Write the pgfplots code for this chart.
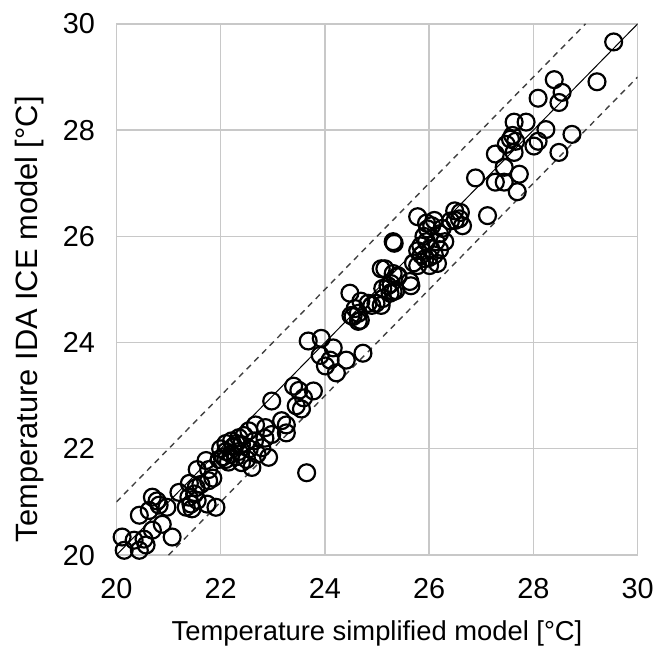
\documentclass[border=0pt]{standalone}
\usepackage{fontspec}
\setmainfont{Liberation Sans}
\usepackage{pgfplots}
\pgfplotsset{compat=1.18}
\definecolor{gridgray}{HTML}{C8C8C8}
\definecolor{dashgray}{HTML}{404040}

\pgfplotstableread{
x y
20.15 20.09
20.11 20.34
20.44 20.09
20.57 20.19
20.34 20.28
20.53 20.30
20.69 20.47
21.07 20.34
20.88 20.58
20.44 20.75
20.63 20.84
20.69 21.09
20.82 20.94
20.97 20.90
20.78 21.02
21.20 21.18
21.39 21.09
21.43 20.96
21.34 20.90
21.45 20.87
21.55 21.03
21.74 20.96
21.91 20.90
21.53 21.27
21.50 21.15
21.62 21.33
21.40 21.35
21.77 21.40
21.85 21.45
21.55 21.61
21.77 21.61
21.72 21.78
21.97 21.80
22.05 21.85
22.10 21.95
22.15 21.75
22.20 21.90
22.25 22.05
22.30 21.85
22.35 21.95
22.00 22.00
22.40 22.08
22.10 22.10
22.21 22.15
22.35 22.21
22.54 22.34
22.67 22.45
22.86 22.40
22.98 22.27
22.92 21.84
22.60 21.65
22.40 21.74
22.79 22.02
22.45 22.25
22.55 22.00
22.70 21.90
22.65 22.15
22.85 22.20
22.50 21.80
22.10 21.80
22.30 22.10
22.98 22.90
23.17 22.53
23.26 22.45
23.26 22.30
23.40 23.18
23.45 22.81
23.59 22.96
23.78 23.09
23.55 22.75
23.50 23.10
23.68 24.03
23.93 24.08
24.16 23.90
23.91 23.76
24.10 23.67
24.01 23.56
24.41 23.67
24.22 23.43
24.73 23.80
23.65 21.55
24.50 24.51
24.64 24.40
24.48 24.93
24.69 24.78
24.83 24.74
24.98 24.74
25.11 24.83
24.58 24.64
24.64 24.55
24.54 24.49
24.68 24.42
24.90 24.70
25.08 24.70
25.21 25.07
25.36 24.98
25.25 24.93
25.08 25.39
25.31 25.30
25.40 25.24
25.63 25.15
25.31 25.90
25.33 25.87
25.27 25.11
25.11 25.02
25.31 24.96
25.65 25.07
25.40 25.26
25.15 25.39
25.78 26.37
26.49 26.48
26.58 26.33
26.64 26.20
26.41 26.29
25.97 26.14
26.13 25.90
25.84 25.82
25.78 25.73
26.03 25.77
26.30 25.90
25.92 25.58
25.78 25.45
26.01 25.45
26.16 25.49
25.90 26.00
26.05 26.20
26.20 26.05
25.85 25.65
26.10 25.65
26.25 26.15
26.50 26.30
25.95 25.90
26.10 26.30
26.00 25.60
25.70 25.50
26.20 25.75
25.95 26.25
26.60 26.45
26.89 27.10
27.12 26.39
27.27 27.02
27.44 27.02
27.69 26.84
27.27 27.55
27.44 27.30
27.73 27.17
27.48 27.73
27.56 27.83
27.66 27.79
27.63 27.58
27.60 27.90
27.63 28.15
27.86 28.15
28.09 27.79
28.01 27.70
28.24 28.01
28.09 28.60
28.40 28.95
28.55 28.71
28.49 28.52
28.49 27.58
28.74 27.92
29.22 28.91
29.54 29.66
}\tempdata

\begin{document}
\begin{tikzpicture}
\begin{axis}[
  width=524pt, height=534pt, scale only axis,
  xmin=20, xmax=30, ymin=20, ymax=30,
  xtick={20,22,...,30}, ytick={20,22,...,30},
  grid=major, grid style={gridgray, line width=1.3pt},
  axis line style={gridgray, line width=1.3pt},
  major tick length=0pt,
  tick label style={font=\fontsize{29}{34}\selectfont, text=black},
  /pgf/number format/assume math mode=true,
  xticklabel shift=20pt, yticklabel shift=18pt,
  xlabel={Temperature simplified model [°C]},
  ylabel={Temperature IDA ICE model [°C]},
  xlabel style={font=\fontsize{27.5}{32}\selectfont, yshift=-15pt},
  ylabel style={font=\fontsize{31}{36}\selectfont, at={(ticklabel cs:0.444)}, yshift=12pt},
  clip mode=individual,
]
\addplot[dashgray, line width=1.4pt, dash pattern=on 6pt off 5pt] coordinates {(20,21) (29,30)};
\addplot[dashgray, line width=1.4pt, dash pattern=on 6pt off 5pt] coordinates {(21,20) (30,29)};
\addplot[black, line width=1pt] coordinates {(20,20) (30,30)};
\addplot[only marks, mark=o, mark size=8.5pt, line width=2.2pt, black] table {\tempdata};
\end{axis}
\path[use as bounding box] ([xshift=-117pt,yshift=-87pt]current axis.south west) rectangle ([xshift=16pt,yshift=24pt]current axis.north east);
\end{tikzpicture}
\end{document}
